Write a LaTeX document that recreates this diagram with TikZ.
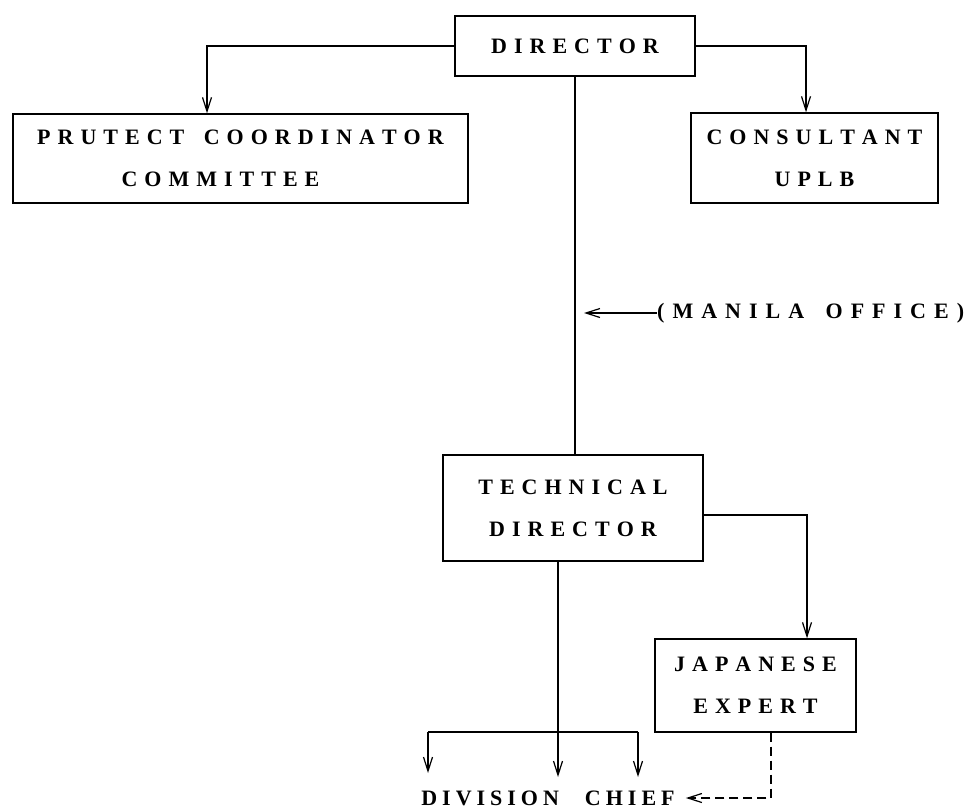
\documentclass[tikz,border=0pt]{standalone}
\usepackage{fontspec}
\setmainfont{Liberation Serif}
\usetikzlibrary{arrows.meta}
\newlength\lsgap
\setlength\lsgap{7pt}
\makeatletter
\def\ls#1{\kern-\lsgap\ls@loop#1\ls@end}
\def\ls@end{\ls@end}
\def\ls@loop#1{\ifx#1\ls@end\else\kern\lsgap#1\expandafter\ls@loop\fi}
\makeatother
\tikzset{
  conn/.style={line width=1.4pt},
  arr/.style={conn, -{Straight Barb[length=14pt,width=9pt,line width=1.2pt]}},
  dashedarr/.style={arr, dash pattern=on 9pt off 5pt},
  box/.style={draw, line width=1.4pt, inner sep=0pt, align=center,
    font=\fontsize{22}{42}\selectfont\bfseries},
  label/.style={inner sep=0pt, font=\fontsize{22}{42}\selectfont\bfseries}
}
\begin{document}
\begin{tikzpicture}[x=1pt,y=-1pt]
\useasboundingbox (0,0) rectangle (973,809);
\node[box, minimum width=240pt, minimum height=60pt] (dir) at (575,46) {\ls{DIRECTOR}};
\node[box, minimum width=455pt, minimum height=89pt] (pcc) at (240.5,158.5)
  {\ls{PRUTECT~COORDINATOR}\\\ls{COMMITTEE}\hspace*{40pt}};
\node[box, minimum width=247pt, minimum height=90pt] (cons) at (814.5,158)
  {\ls{CONSULTANT}\\\ls{UPLB}};
\node[box, minimum width=260pt, minimum height=106pt] (tech) at (573,508)
  {\ls{TECHNICAL}\\\ls{DIRECTOR}};
\node[box, minimum width=201pt, minimum height=93pt] (jap) at (755.5,685.5)
  {\ls{JAPANESE}\\\ls{EXPERT}};
\node[label, anchor=west] (manila) at (657,313) {\setlength\lsgap{8pt}\ls{(MANILA~OFFICE)}};
\node[label] (div) at (548,798) {\setlength\lsgap{5pt}\ls{DIVISION~~CHIEF}};

\coordinate (mtip) at (584,313);
\coordinate (bl) at (428,732);
\coordinate (br) at (638,732);
\coordinate (tl) at (428,773);
\coordinate (tm) at (558,777);
\coordinate (tr) at (638,777);

\draw[arr] (dir.west) -| ([xshift=-33.5pt]pcc.north);
\draw[arr] (dir.east) -| ([xshift=-8.5pt]cons.north);
\draw[conn] (dir.south) -- (dir.south |- tech.north);
\draw[arr] (manila.west) -- (mtip);
\draw[arr] ([yshift=-7pt]tech.east) -| ([xshift=51.5pt]jap.north);
\draw[arr] ([xshift=-15pt]tech.south) -- (tm);
\draw[conn] (bl) -- (br);
\draw[arr] (bl) -- (tl);
\draw[arr] (br) -- (tr);
\draw[dashedarr] ([xshift=15.5pt]jap.south) |- ([xshift=11pt]div.east);
\end{tikzpicture}
\end{document}
